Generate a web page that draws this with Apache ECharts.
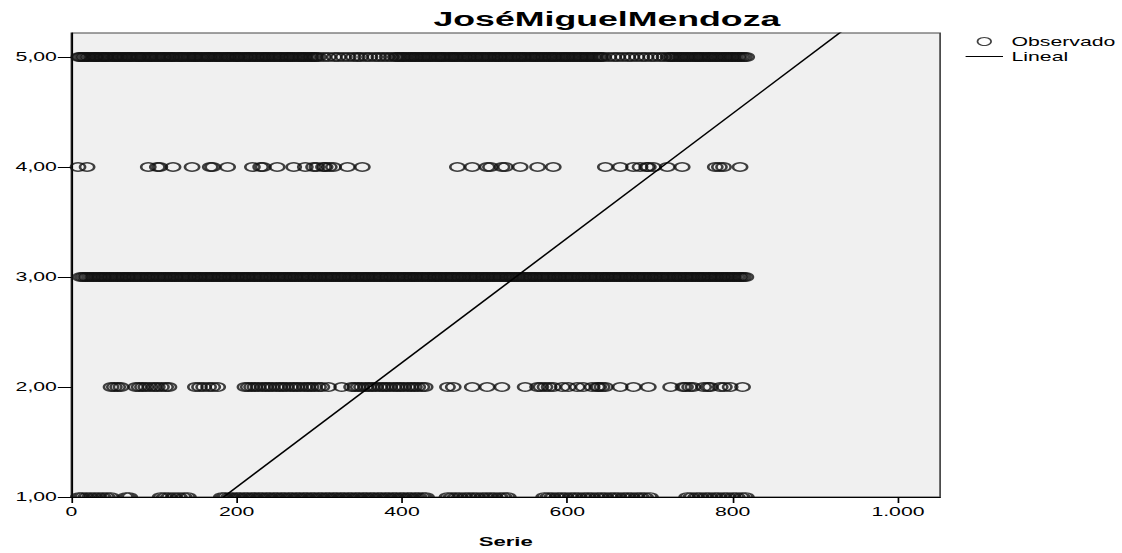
<!DOCTYPE html>
<html>
<head>
<meta charset="utf-8">
<script src="https://cdn.jsdelivr.net/npm/echarts@6/dist/echarts.min.js"></script>
<style>
html,body{margin:0;padding:0;background:#fff;overflow:hidden;}
#c{width:660px;height:553px;transform:scaleX(1.7);transform-origin:0 0;}
</style>
</head>
<body>
<div id="c"></div>
<script>
// ---- data (Serie index, observed value) ----
const level5 = [9,11,14,16,19,21,24,27,29,30,33,36,38,41,42,45,48,51,53,55,58,60,63,65,68,70,72,75,78,81,82,85,87,90,93,95,97,100,103,105,108,111,112,115,118,121,122,125,128,131,133,135,138,141,143,146,149,150,153,156,158,161,164,166,168,171,174,176,179,181,184,187,189,191,194,197,200,201,204,207,210,212,215,217,220,223,225,228,231,233,236,238,241,244,246,249,252,254,257,260,262,265,267,270,273,276,278,281,283,286,289,291,294,296,299,305,311,318,323,329,335,341,346,350,356,361,367,372,377,382,387,392,394,397,400,402,405,408,411,413,416,418,421,424,426,429,432,434,437,440,443,445,448,450,453,456,459,461,464,466,469,472,475,477,480,482,485,488,490,493,496,498,501,504,506,509,512,514,517,519,522,525,527,530,533,535,538,541,543,546,548,551,554,557,559,562,564,567,570,572,575,578,580,583,585,588,591,594,596,599,601,604,607,609,612,615,617,620,623,625,628,631,633,636,639,641,644,650,656,661,667,673,678,684,690,695,701,706,712,717,722,725,727,730,733,736,738,741,744,746,749,752,755,757,760,762,765,768,771,773,776,779,781,784,787,790,792,795,798,800,803,806,808,811,814,817];
const level4 = [8,19,93,104,107,123,146,168,171,189,219,229,232,249,269,283,293,297,305,307,312,317,334,352,467,485,503,507,521,525,543,564,583,646,664,680,688,696,698,704,721,739,779,784,789,809];
const level3 = [11,14,17,19,22,25,27,30,33,35,38,40,43,46,48,51,54,56,59,62,64,67,69,72,75,77,80,83,85,88,91,93,96,98,101,104,106,109,112,114,117,120,122,125,127,130,133,135,138,141,143,146,149,151,154,156,159,162,164,167,170,172,175,178,180,183,185,188,191,193,196,199,201,204,207,209,212,214,217,220,222,225,228,230,233,236,238,241,243,246,249,251,254,257,259,262,265,267,270,272,275,278,280,283,286,288,291,294,296,299,301,304,307,309,312,315,317,320,323,325,328,330,333,336,338,341,344,346,349,352,354,357,359,362,365,367,370,373,375,378,381,383,386,388,391,394,396,399,402,404,407,410,412,415,417,420,423,425,428,431,433,436,439,441,444,446,449,452,454,457,460,462,465,468,470,473,475,478,481,483,486,489,491,494,497,499,502,504,507,510,512,515,518,520,523,526,528,531,533,536,539,541,544,547,549,552,555,557,560,562,565,568,570,573,576,578,581,584,586,589,591,594,597,599,602,605,607,610,613,615,618,620,623,626,628,631,634,636,639,642,644,647,649,652,655,657,660,663,665,668,671,673,676,678,681,684,686,689,692,694,697,700,702,705,707,710,713,715,718,721,723,726,729,731,734,736,739,742,744,747,750,752,755,758,760,763,765,768,771,773,776,779,781,784,787,789,792,794,797,800,802,805,808,810,813,816];
const level2 = [48,52,56,60,78,82,86,90,95,100,104,109,114,118,150,155,160,166,171,177,210,214,218,222,226,231,235,239,243,248,252,256,260,265,269,273,277,282,286,290,294,299,303,311,327,339,343,347,351,356,360,364,368,373,377,381,385,390,394,398,402,407,411,415,419,424,428,455,462,485,503,521,549,564,568,573,578,583,594,601,612,619,630,636,638,642,646,664,680,698,725,740,743,748,752,765,770,773,785,790,797,812];
const level1 = [9,13,18,23,28,33,38,43,48,66,70,108,113,118,124,130,136,141,182,186,191,195,200,204,209,213,218,222,227,231,236,240,245,249,254,258,263,267,272,276,281,285,290,294,299,303,308,312,317,321,326,330,335,339,344,348,353,357,362,366,371,375,380,384,389,393,398,402,407,411,416,420,425,429,455,460,465,470,476,481,486,491,497,502,507,512,518,523,528,572,577,582,588,593,598,604,609,614,620,625,630,636,641,646,652,657,662,668,673,678,684,689,694,700,745,750,756,761,767,772,778,783,789,794,800,805,811,816];
// linear fit (Lineal) end points
const linealX = [0, 1051];
const linealY = [-0.042, 5.907];
// ticks
const xTicks = [0, 200, 400, 600, 800, 1000];
const yTicks = [1, 2, 3, 4, 5];

const FONT = 'Liberation Sans, Arial, sans-serif';
const pairs = (xs, y) => xs.map(x => [x, y]);
const upperPoints = [].concat(pairs(level5, 5), pairs(level4, 4), pairs(level3, 3), pairs(level2, 2));
const bottomPoints = pairs(level1, 1);
const lineData = linealX.map((x, i) => [x, linealY[i]]);

const fmtX = v => String(v).replace(/\B(?=(\d{3})+(?!\d))/g, '.');
const fmtY = v => v.toFixed(2).replace('.', ',');

const chart = echarts.init(document.getElementById('c'), null, {renderer: 'svg'});
const ptStyle = {color: 'rgba(0,0,0,0)', borderColor: '#111', borderWidth: 1.5};
chart.setOption({
  animation: false,
  backgroundColor: '#fff',
  title: {
    text: 'JoséMiguelMendoza',
    left: 357, top: 8, textAlign: 'center', padding: 0,
    textStyle: {fontFamily: FONT, fontWeight: 'bold', fontSize: 21, color: '#000'}
  },
  legend: {
    orient: 'vertical', left: 568, top: 35,
    itemWidth: 22, itemHeight: 8, itemGap: 2, padding: 0,
    textStyle: {fontFamily: FONT, fontSize: 12.5, color: '#000'},
    data: [
      {name: 'Observado', icon: 'circle', itemStyle: {color: 'rgba(0,0,0,0)', borderColor: '#111', borderWidth: 1}},
      {name: 'Lineal', icon: 'path://M0,0 L22,0 L22,1 L0,1 Z', itemStyle: {color: '#000', borderWidth: 0}}
    ]
  },
  grid: {
    left: 42, right: 107, top: 33, bottom: 56,
    show: true, backgroundColor: '#f0f0f0', borderColor: '#444', borderWidth: 1
  },
  xAxis: {
    type: 'value', min: 0, max: 1051,
    name: 'Serie', nameLocation: 'middle', nameGap: 38,
    nameTextStyle: {fontFamily: FONT, fontWeight: 'bold', fontSize: 13, color: '#000'},
    axisLine: {lineStyle: {color: '#000', width: 1}},
    axisTick: {length: 6, lineStyle: {color: '#000'}, customValues: xTicks},
    axisLabel: {customValues: xTicks, formatter: fmtX, margin: 8, fontFamily: FONT, fontSize: 12.5, color: '#000'},
    splitLine: {show: false}
  },
  yAxis: {
    type: 'value', min: 1, max: 5.218,
    axisLine: {show: true, lineStyle: {color: '#000', width: 1}},
    axisTick: {show: true, length: 8, lineStyle: {color: '#000'}, customValues: yTicks},
    axisLabel: {customValues: yTicks, formatter: fmtY, margin: 8.5, fontFamily: FONT, fontSize: 12.5, color: '#000'},
    splitLine: {show: false}
  },
  series: [
    {
      name: 'Observado', type: 'scatter', data: upperPoints,
      symbol: 'circle', symbolSize: 8.4, itemStyle: ptStyle, z: 2
    },
    {
      name: 'Observado', type: 'scatter', data: bottomPoints,
      symbol: 'path://M0,10 A10,10 0 0,1 20,10', symbolSize: [8.4, 4.2], symbolOffset: [0, -2.1],
      itemStyle: ptStyle, z: 2
    },
    {
      name: 'Lineal', type: 'line', data: lineData, symbol: 'none', clip: true,
      itemStyle: {color: '#000'},
      lineStyle: {color: '#000', width: 1.2}, z: 3
    }
  ]
});
</script>
</body>
</html>
